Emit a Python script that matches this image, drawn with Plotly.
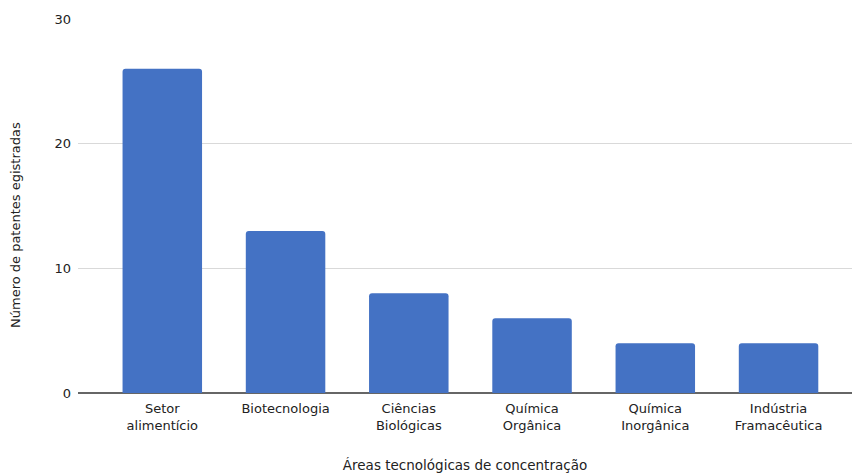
import plotly.graph_objects as go

categories = ["Setor<br>alimentício", "Biotecnologia", "Ciências<br>Biológicas",
              "Química<br>Orgânica", "Química<br>Inorgânica", "Indústria<br>Framacêutica"]
values = [26, 13, 8, 6, 4, 4]
y_ticks = [0, 10, 20, 30]

FONT = "DejaVu Sans"
fig = go.Figure(go.Bar(
    x=list(range(len(categories))), y=values,
    marker=dict(color="#4472C4", line=dict(width=0), cornerradius=3),
    width=0.645,
))
fig.update_layout(
    width=854, height=473,
    margin=dict(l=78, r=2, t=19, b=80),
    plot_bgcolor="white", paper_bgcolor="white",
    font=dict(family=FONT, size=13, color="#222222"),
    showlegend=False,
)
fig.update_xaxes(
    tickmode="array", tickvals=list(range(len(categories))), ticktext=categories,
    range=[-0.684, 5.596], showgrid=False, showline=False, zeroline=False,
    ticks="", ticklabelstandoff=6,
    title=dict(text="Áreas tecnológicas de concentração", standoff=28, font=dict(size=13.5)),
)
fig.update_yaxes(
    range=[0, 30], tickvals=y_ticks, showgrid=True, gridcolor="#d9d9d9", gridwidth=1,
    zeroline=True, zerolinecolor="#666666", zerolinewidth=1.5, showline=False,
    ticks="", ticklabelstandoff=6,
)
fig.add_annotation(
    text="Número de patentes egistradas", xref="paper", yref="paper",
    x=-78/774 + 15/774, y=(393-225)/374, textangle=-90, showarrow=False,
    xanchor="center", yanchor="middle", font=dict(size=13),
)
fig.write_html("out.html")
